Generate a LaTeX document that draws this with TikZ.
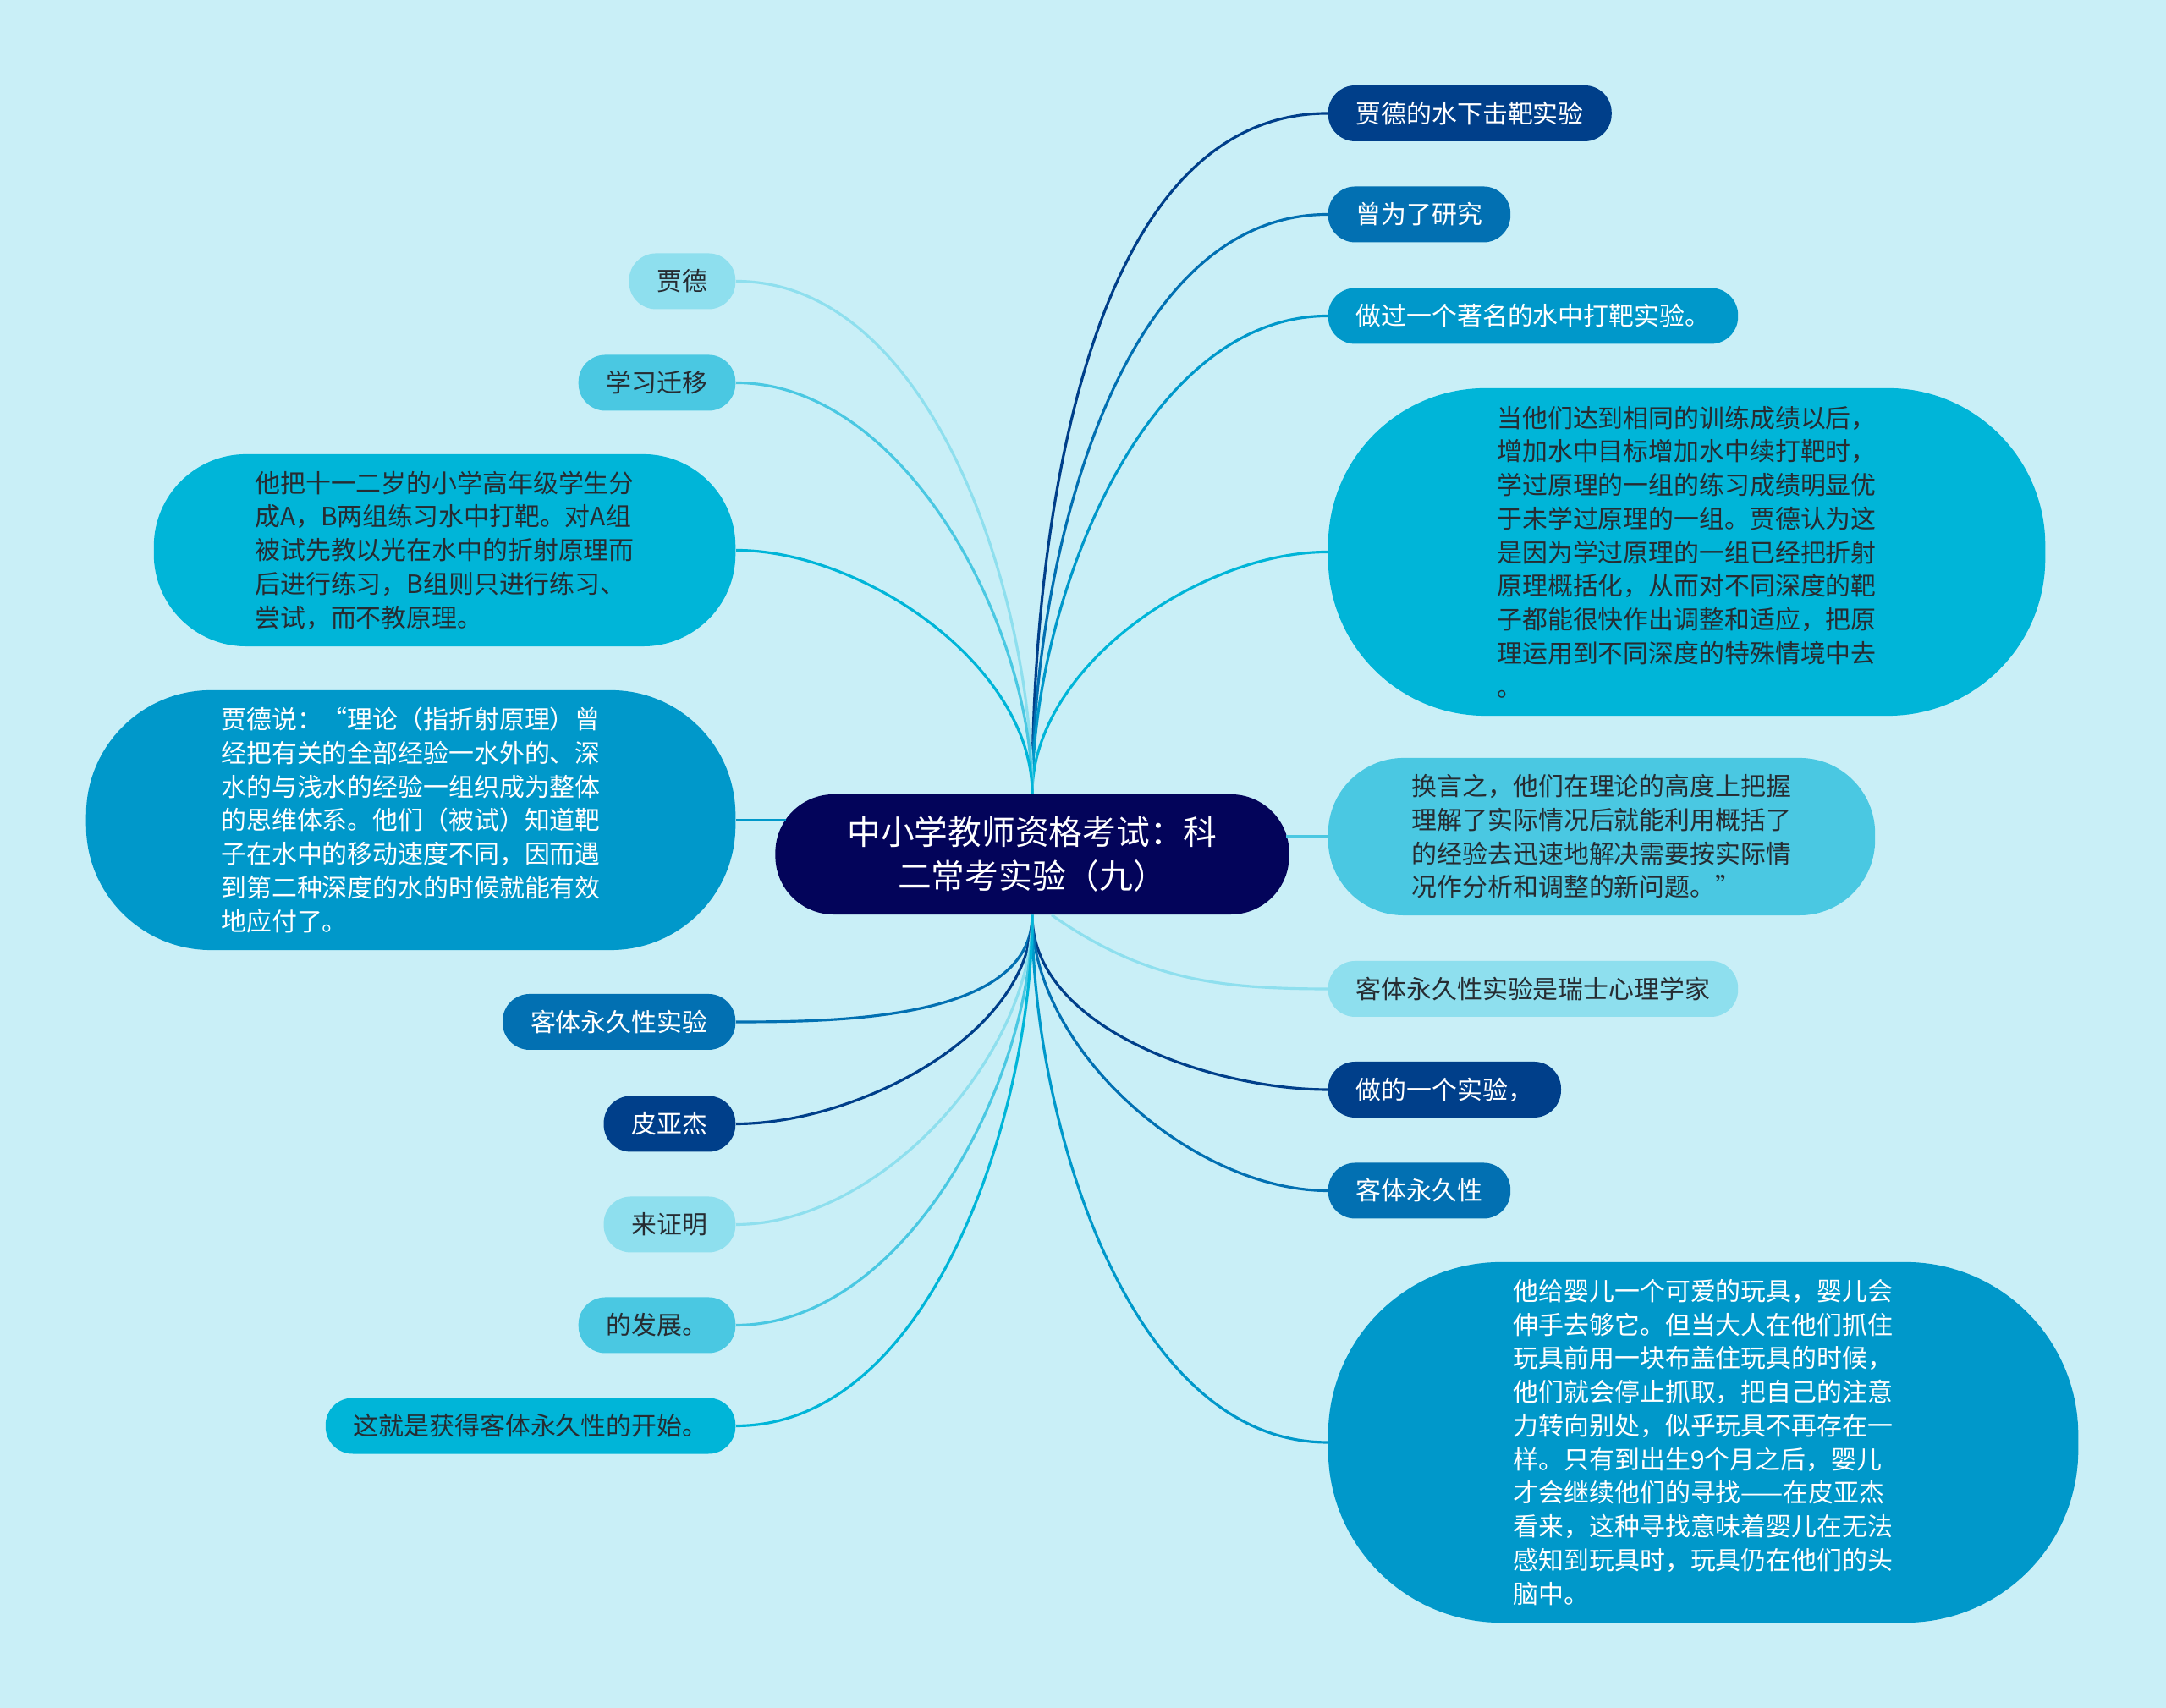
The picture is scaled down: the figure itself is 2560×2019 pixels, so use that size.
\documentclass[tikz,border=0pt]{standalone}
\usepackage{fontspec}
\setmainfont{Noto Sans CJK SC}
\usepackage{tikz}
\usepackage{xcolor}
\definecolor{bgc}{RGB}{201,239,247}
\definecolor{rootc}{RGB}{3,4,90}
\definecolor{c1}{RGB}{0,63,138}
\definecolor{c2}{RGB}{2,112,178}
\definecolor{c3}{RGB}{0,152,202}
\definecolor{c4}{RGB}{0,181,216}
\definecolor{c5}{RGB}{74,200,226}
\definecolor{c6}{RGB}{142,223,238}
\definecolor{txt}{RGB}{38,44,50}

\begin{document}
\begin{tikzpicture}[x=0.01cm, y=0.01cm,
    every node/.style={font=\fontsize{8.5}{11.3}\selectfont, text=txt},
    pill/.style={rectangle, minimum height=0.66cm, inner xsep=0.33cm, rounded corners=0.32cm},
    bigbox/.style={rectangle, align=left, minimum height=#1, inner xsep=0.5*#1+0.06cm,
                   rounded corners=0.48*#1},
    lv1/.style={fill=c1, text=white}, lv2/.style={fill=c2, text=white},
    lv3/.style={fill=c3, text=white}, lv4/.style={fill=c4},
    lv5/.style={fill=c5}, lv6/.style={fill=c6},
    link/.style={line width=0.9pt}]
        % Background
        \path[use as bounding box, fill=bgc] (0,0) rectangle (2560,2019);
        % Root
        \node[rectangle, fill=rootc, text=white, align=center, minimum height=1.42cm,
              inner xsep=0.85cm, rounded corners=0.69cm,
              font=\fontsize{11.3}{14.8}\selectfont] (root) at (1220,1009)
              {中小学教师资格考试：科\\二常考实验（九）};
        % Right branches
        \node[pill, lv1, anchor=west] (jdexp) at (1569,1885) {贾德的水下击靶实验};
        \node[pill, lv2, anchor=west] (ceng) at (1569,1765.5) {曾为了研究};
        \node[pill, lv3, anchor=west] (zuoguo) at (1569,1645.5) {做过一个著名的水中打靶实验。};
        \node[bigbox=3.87cm, lv4, anchor=west] (dangta) at (1569,1366.5) {当他们达到相同的训练成绩以后，\\增加水中目标增加水中续打靶时，\\学过原理的一组的练习成绩明显优\\于未学过原理的一组。贾德认为这\\是因为学过原理的一组已经把折射\\原理概括化，从而对不同深度的靶\\子都能很快作出调整和适应，把原\\理运用到不同深度的特殊情境中去\\。};
        \node[bigbox=1.86cm, lv5, anchor=west] (huanyan) at (1569,1030) {换言之，他们在理论的高度上把握\\理解了实际情况后就能利用概括了\\的经验去迅速地解决需要按实际情\\况作分析和调整的新问题。”};
        \node[pill, lv6, anchor=west] (ketiexp) at (1569,850) {客体永久性实验是瑞士心理学家};
        \node[pill, lv1, anchor=west] (zuode) at (1569,731) {做的一个实验，};
        \node[pill, lv2, anchor=west] (keti) at (1569,611.5) {客体永久性};
        \node[bigbox=4.26cm, lv3, anchor=west] (tagei) at (1569,314) {他给婴儿一个可爱的玩具，婴儿会\\伸手去够它。但当大人在他们抓住\\玩具前用一块布盖住玩具的时候，\\他们就会停止抓取，把自己的注意\\力转向别处，似乎玩具不再存在一\\样。只有到出生9个月之后，婴儿\\才会继续他们的寻找——在皮亚杰\\看来，这种寻找意味着婴儿在无法\\感知到玩具时，玩具仍在他们的头\\脑中。};
        % Left branches
        \node[pill, lv6, anchor=east] (jd) at (870,1686.5) {贾德};
        \node[pill, lv5, anchor=east] (xxqy) at (870,1566.5) {学习迁移};
        \node[bigbox=2.27cm, lv4, anchor=east] (taba) at (870,1368.5) {他把十一二岁的小学高年级学生分\\成A，B两组练习水中打靶。对A组\\被试先教以光在水中的折射原理而\\后进行练习，B组则只进行练习、\\尝试，而不教原理。};
        \node[bigbox=3.07cm, lv3, anchor=east] (jdshuo) at (870,1049.5) {贾德说：“理论（指折射原理）曾\\经把有关的全部经验一水外的、深\\水的与浅水的经验一组织成为整体\\的思维体系。他们（被试）知道靶\\子在水中的移动速度不同，因而遇\\到第二种深度的水的时候就能有效\\地应付了。};
        \node[pill, lv2, anchor=east] (ketisy) at (870,811) {客体永久性实验};
        \node[pill, lv1, anchor=east] (pyj) at (870,690.5) {皮亚杰};
        \node[pill, lv6, anchor=east] (lzm) at (870,571.5) {来证明};
        \node[pill, lv5, anchor=east] (dfz) at (870,452.5) {的发展。};
        \node[pill, lv4, anchor=east] (zjs) at (870,333.5) {这就是获得客体永久性的开始。};
        % Links from the top of the root
        \draw[link, c1] (root.north) to[out=90, in=180, looseness=0.85] (jdexp.west);
        \draw[link, c2] (root.north) to[out=90, in=180, looseness=0.85] (ceng.west);
        \draw[link, c3] (root.north) to[out=90, in=180, looseness=0.85] (zuoguo.west);
        \draw[link, c4] (root.north) to[out=90, in=180, looseness=0.85] (dangta.west);
        \draw[link, c6] (root.north) to[out=90, in=0, looseness=0.85] (jd.east);
        \draw[link, c5] (root.north) to[out=90, in=0, looseness=0.85] (xxqy.east);
        \draw[link, c4] (root.north) to[out=90, in=0, looseness=0.85] (taba.east);
        % Side links
        \draw[link, c5] (huanyan.west) -- ([xshift=-0.04cm]huanyan.west -| root.east);
        \draw[link, c3] (jdshuo.east) -- ([xshift=0.13cm]jdshuo.east -| root.west);
        % Links from the bottom of the root
        \draw[link, c6] ([xshift=0.23cm]root.south) to[out=-35, in=180] (ketiexp.west);
        \draw[link, c1] (root.south) to[out=-90, in=180, looseness=0.85] (zuode.west);
        \draw[link, c2] (root.south) to[out=-90, in=180, looseness=0.85] (keti.west);
        \draw[link, c3] (root.south) to[out=-90, in=180, looseness=0.85] (tagei.west);
        \draw[link, c2] (root.south) to[out=-90, in=0, looseness=0.85] (ketisy.east);
        \draw[link, c1] (root.south) to[out=-90, in=0, looseness=0.85] (pyj.east);
        \draw[link, c6] (root.south) to[out=-90, in=0, looseness=0.85] (lzm.east);
        \draw[link, c5] (root.south) to[out=-90, in=0, looseness=0.85] (dfz.east);
        \draw[link, c4] (root.south) to[out=-90, in=0, looseness=0.85] (zjs.east);
\end{tikzpicture}
\end{document}
